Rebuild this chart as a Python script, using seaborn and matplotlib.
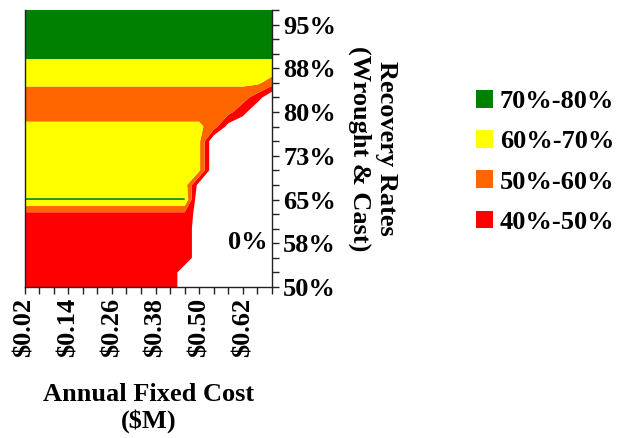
import matplotlib
matplotlib.use("Agg")
import matplotlib.pyplot as plt
from matplotlib.patches import Patch
import numpy as np
import seaborn as sns

# ---- data ----
costs = [0.02, 0.06, 0.10, 0.14, 0.18, 0.22, 0.26, 0.30, 0.34,
         0.38, 0.42, 0.46, 0.50, 0.54, 0.58, 0.62, 0.66, 0.70]
rates = [50.0, 52.5, 55.0, 57.5, 60.0, 62.5, 65.0, 67.5, 70.0, 72.5,
         75.0, 77.5, 80.0, 82.5, 85.0, 87.5, 90.0, 92.5, 95.0, 97.5]
x_tick_labels = ["\\$0.02", "", "", "\\$0.14", "", "", "\\$0.26", "", "",
                 "\\$0.38", "", "", "\\$0.50", "", "", "\\$0.62", "", ""]
y_tick_labels = ["50%", "", "", "58%", "", "", "65%", "", "", "73%",
                 "", "", "80%", "", "", "88%", "", "", "95%", ""]

# value surface (rows = recovery rates bottom->top, cols = fixed costs)
row_50_0 = [0.45] * 11 + [0.35] + [0.30] * 6
row_52_5 = [0.45] * 11 + [0.35] + [0.30] * 6
row_55_0 = [0.45] * 12 + [0.35] + [0.30] * 5
row_57_5 = [0.45] * 12 + [0.35] + [0.30] * 5
row_60_0 = [0.45] * 12 + [0.35] + [0.30] * 5
row_62_5 = [0.47] * 12 + [0.35] + [0.30] * 5
row_65_0 = [0.705] * 12 + [0.28] * 6
row_67_5 = [0.65] * 12 + [0.35] + [0.30] * 5
row_70_0 = [0.65] * 12 + [0.62] + [0.30] * 5
row_72_5 = [0.65] * 12 + [0.62] + [0.30] * 5
row_75_0 = [0.65] * 12 + [0.62] + [0.30] * 5
row_77_5 = [0.62] * 13 + [0.55, 0.36] + [0.30] * 3
row_80_0 = [0.56] * 14 + [0.53, 0.44] + [0.30] * 2
row_82_5 = [0.54] * 16 + [0.45, 0.30]
row_85_0 = [0.62] * 17 + [0.55]
row_87_5 = [0.665] * 18
row_90_0 = [0.72] * 18
row_92_5 = [0.75] * 18
row_95_0 = [0.75] * 18
row_97_5 = [0.75] * 18

band_levels = [0.4, 0.5, 0.6, 0.7, 0.8]
band_labels = ["40%-50%", "50%-60%", "60%-70%", "70%-80%"]
band_colors = ["#FF0000", "#FF6600", "#FFFF00", "#008000"]

Z = np.array([row_50_0, row_52_5, row_55_0, row_57_5, row_60_0, row_62_5,
              row_65_0, row_67_5, row_70_0, row_72_5, row_75_0, row_77_5,
              row_80_0, row_82_5, row_85_0, row_87_5, row_90_0, row_92_5,
              row_95_0, row_97_5])

# ---- style ----
sns.set_style("ticks")
plt.rcParams["font.family"] = ["Liberation Serif", "DejaVu Serif"]
plt.rcParams["font.weight"] = "bold"
plt.rcParams["text.color"] = "black"
plt.rcParams["xtick.color"] = "black"
plt.rcParams["ytick.color"] = "black"
plt.rcParams["axes.labelcolor"] = "black"
FS = 19

fig = plt.figure(figsize=(6.17, 4.38), dpi=100)
ax = fig.add_axes([24.5 / 617, 1 - 287 / 438, (272 - 24.5) / 617, (287 - 10) / 438])

ax.contourf(costs, rates, Z, levels=band_levels, colors=band_colors, antialiased=True)

ax.set_xlim(costs[0], costs[-1])
ax.set_ylim(rates[0], rates[-1])

ax.set_xticks(costs)
ax.set_xticklabels(x_tick_labels, rotation=90, fontsize=FS, fontweight="bold")
ax.yaxis.tick_right()
ax.set_yticks(rates)
ax.set_yticklabels(y_tick_labels, fontsize=FS, fontweight="bold")
ax.tick_params(axis="both", direction="out", length=5, width=1, color="#222222",
               labelcolor="black", pad=3)

for s in ["left", "bottom", "right"]:
    ax.spines[s].set_visible(True)
    ax.spines[s].set_color("#222222")
    ax.spines[s].set_linewidth(1)
ax.spines["top"].set_visible(False)

ax.text(0.634, 57.7, "0%", ha="center", va="center", fontsize=FS, fontweight="bold",
        color="black")

fig.text(149 / 617, 1 - 408 / 438, "Annual Fixed Cost\n($M)", ha="center", va="center",
         fontsize=FS, fontweight="bold", multialignment="center", color="black")
fig.text(373 / 617, 1 - 148.5 / 438, "Recovery Rates\n(Wrought & Cast)", ha="center",
         va="center", rotation=-90, fontsize=FS, fontweight="bold",
         multialignment="center", color="black")

handles = [Patch(facecolor=c, edgecolor="none") for c in band_colors[::-1]]
leg = fig.legend(handles, band_labels[::-1], loc="upper left",
                 bbox_to_anchor=(476 / 617, 1 - 90 / 438), frameon=False,
                 borderpad=0, borderaxespad=0, handlelength=0.65, handleheight=0.65,
                 handletextpad=0.25, labelspacing=0.65,
                 prop={"size": FS, "weight": "bold"})
for t in leg.get_texts():
    t.set_color("black")

fig.savefig("out.png", dpi=100)
